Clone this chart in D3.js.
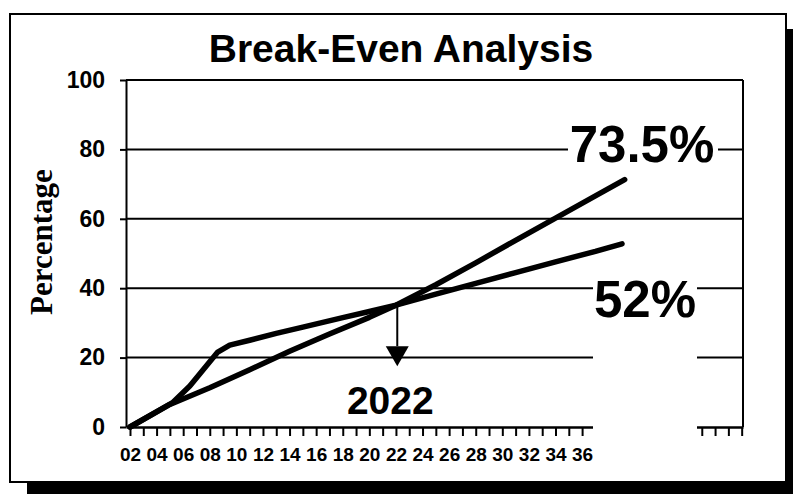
<!DOCTYPE html>
<html>
<head>
<meta charset="utf-8">
<script src="https://cdn.jsdelivr.net/npm/d3@7"></script>
<style>
  body { margin: 0; background: #fff; }
  svg { display: block; }
</style>
</head>
<body>
<div id="chart"></div>
<script>
var title = "Break-Even Analysis";
var yLabel = "Percentage";
var yTicks = [0, 20, 40, 60, 80, 100];
var xLabels = ["02", "04", "06", "08", "10", "12", "14", "16", "18", "20",
               "22", "24", "26", "28", "30", "32", "34", "36"];

// steeper line (ends near 73.5%)
var yearsA  = [2002, 2005, 2008, 2011, 2014, 2017, 2020, 2022, 2025, 2028, 2031, 2034, 2037, 2039.2];
var valuesA = [0,    6.5,  11.3, 16.5, 21.8, 26.8, 31.6, 35.1, 41,   47.3, 53.8, 60.2, 66.6, 71.3];

// flatter line (ends near 52%)
var yearsB  = [2002, 2005.2, 2006.5, 2008.6, 2009.5, 2011, 2013, 2015, 2018, 2020, 2022, 2025, 2028, 2031, 2034, 2037, 2039];
var valuesB = [0,    7.0,    11.8,   21.6,   23.6,   25,   27,   28.8, 31.5, 33.3, 35.1, 38.3, 41.4, 44.5, 47.6, 50.6, 52.8];

var breakEvenYear = 2022.1, breakEvenValue = 35.1, arrowHeadTop = 23.3, arrowTip = 17.5;
var labelA = "73.5%", labelB = "52%", breakEvenLabel = "2022";

var W = 793, H = 494;
var sans = "'Liberation Sans', Arial, Helvetica, sans-serif";

var svg = d3.select("#chart").append("svg")
    .attr("width", W)
    .attr("height", H);

// drop shadow + frame
svg.append("rect")
    .attr("x", 27).attr("y", 29)
    .attr("width", W - 27).attr("height", H - 29)
    .attr("fill", "#000");
svg.append("rect")
    .attr("x", 10).attr("y", 14)
    .attr("width", 776).attr("height", 468)
    .attr("fill", "#fff")
    .attr("stroke", "#000")
    .attr("stroke-width", 2);

var x = d3.scaleLinear().domain([2001.7, 2048.1]).range([126, 743]);
var y = d3.scaleLinear().domain([0, 100]).range([427, 80]);

// gridlines
svg.append("g").selectAll("line")
    .data(yTicks.slice(1))
    .enter().append("line")
    .attr("x1", x.range()[0]).attr("x2", x.range()[1])
    .attr("y1", d => y(d)).attr("y2", d => y(d))
    .attr("stroke", "#000")
    .attr("stroke-width", 2);

// right edge of plot
svg.append("line")
    .attr("x1", x.range()[1]).attr("x2", x.range()[1])
    .attr("y1", y(100)).attr("y2", y(0))
    .attr("stroke", "#000")
    .attr("stroke-width", 2);

// Y axis
var yAxis = svg.append("g")
    .attr("transform", "translate(" + x.range()[0] + ",0)")
    .call(d3.axisLeft(y).tickValues(yTicks).tickSize(6).tickPadding(15).tickSizeOuter(0));
yAxis.select(".domain").attr("stroke-width", 2);
yAxis.selectAll(".tick line").attr("stroke-width", 2);
yAxis.selectAll("text")
    .style("font-family", sans)
    .style("font-weight", "bold")
    .style("font-size", "23px")
    .attr("fill", "#000");

// X axis
var xAxis = svg.append("g")
    .attr("transform", "translate(0," + y(0) + ")")
    .call(d3.axisBottom(x)
        .tickValues(d3.range(2002, 2049))
        .tickSize(9)
        .tickPadding(12)
        .tickSizeOuter(0)
        .tickFormat(function(d) {
            var i = (d - 2002) / 2;
            return (Number.isInteger(i) && i < xLabels.length) ? xLabels[i] : "";
        }));
xAxis.select(".domain").attr("stroke-width", 2.5);
xAxis.selectAll(".tick line").attr("stroke-width", 2);
xAxis.selectAll("text")
    .style("font-family", sans)
    .style("font-weight", "bold")
    .style("font-size", "19px")
    .attr("fill", "#000");

// the two lines
var line = d3.line()
    .x(d => x(d[0]))
    .y(d => y(d[1]));

svg.append("path")
    .datum(d3.zip(yearsA, valuesA))
    .attr("d", line)
    .attr("fill", "none")
    .attr("stroke", "#000")
    .attr("stroke-width", 5.5)
    .attr("stroke-linecap", "round")
    .attr("stroke-linejoin", "round");

svg.append("path")
    .datum(d3.zip(yearsB, valuesB))
    .attr("d", line)
    .attr("fill", "none")
    .attr("stroke", "#000")
    .attr("stroke-width", 5.5)
    .attr("stroke-linecap", "round")
    .attr("stroke-linejoin", "round");

// break-even arrow
var ax = x(breakEvenYear);
svg.append("line")
    .attr("x1", ax).attr("x2", ax)
    .attr("y1", y(breakEvenValue)).attr("y2", y(arrowHeadTop))
    .attr("stroke", "#000")
    .attr("stroke-width", 2);
svg.append("polygon")
    .attr("points", [[ax - 11.5, y(arrowHeadTop)], [ax + 11.5, y(arrowHeadTop)], [ax, y(arrowTip)]].join(" "))
    .attr("fill", "#000");

svg.append("text")
    .attr("x", ax - 7)
    .attr("y", 414)
    .attr("text-anchor", "middle")
    .style("font-family", sans)
    .style("font-weight", "bold")
    .style("font-size", "39px")
    .text(breakEvenLabel);

// white boxes behind the end labels
svg.append("rect")
    .attr("x", 568).attr("y", 120)
    .attr("width", 150).attr("height", 50)
    .attr("fill", "#fff");
svg.append("rect")
    .attr("x", 593).attr("y", 272)
    .attr("width", 104).attr("height", 206)
    .attr("fill", "#fff");

svg.append("text")
    .attr("x", 642)
    .attr("y", 162)
    .attr("text-anchor", "middle")
    .style("font-family", sans)
    .style("font-weight", "bold")
    .style("font-size", "51px")
    .text(labelA);

svg.append("text")
    .attr("x", 645)
    .attr("y", 317)
    .attr("text-anchor", "middle")
    .style("font-family", sans)
    .style("font-weight", "bold")
    .style("font-size", "51px")
    .text(labelB);

// title
svg.append("text")
    .attr("x", 401)
    .attr("y", 62)
    .attr("text-anchor", "middle")
    .style("font-family", sans)
    .style("font-weight", "bold")
    .style("font-size", "39px")
    .text(title);

// y label
svg.append("text")
    .attr("transform", "translate(52,242) rotate(-90)")
    .attr("text-anchor", "middle")
    .style("font-family", "'Liberation Serif', 'Times New Roman', serif")
    .style("font-weight", "bold")
    .style("font-size", "31px")
    .text(yLabel);
</script>
</body>
</html>
